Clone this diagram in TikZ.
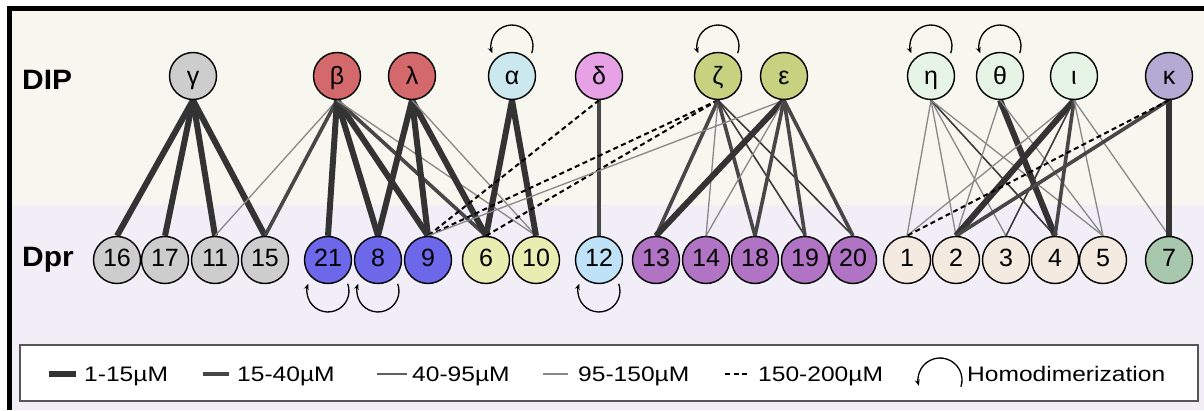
\documentclass[tikz,border=0pt]{standalone}
\usepackage{fontspec}
\setmainfont{Liberation Sans}
\newfontfamily\legfont[FakeStretch=1.17]{Liberation Sans}
\newfontfamily\rowfont[FakeStretch=1.07]{Liberation Sans}
\usetikzlibrary{arrows.meta}
\pgfdeclarelayer{back}
\pgfdeclarelayer{edges}
\pgfsetlayers{back,edges,main}

% fills
\definecolor{bgtop}{HTML}{F7F6EF}
\definecolor{bgbot}{HTML}{F2EEF8}
\definecolor{cgray}{HTML}{CDCDCD}
\definecolor{cred}{HTML}{D3696B}
\definecolor{ccyan}{HTML}{CBE8EE}
\definecolor{cpink}{HTML}{E6A2E4}
\definecolor{colive}{HTML}{C6D27F}
\definecolor{cmint}{HTML}{E6F4E6}
\definecolor{clav}{HTML}{B5AAD3}
\definecolor{cblue}{HTML}{6D67EA}
\definecolor{cyel}{HTML}{EAEDB2}
\definecolor{clblue}{HTML}{BFE2F8}
\definecolor{cpurp}{HTML}{B174C4}
\definecolor{cbeige}{HTML}{F4EAE0}
\definecolor{csage}{HTML}{A8C8AD}
\definecolor{edgeA}{HTML}{333333}
\definecolor{edgeB}{HTML}{474747}
\definecolor{edgeC}{HTML}{3A3A3A}
\definecolor{edgeD}{HTML}{888888}
\definecolor{boxline}{HTML}{555555}

\begin{document}
\begin{tikzpicture}[x=1pt,y=1pt,
  mol/.style={circle, draw=black, line width=1.4pt, minimum size=47pt,
    inner sep=0pt, font=\fontsize{25}{30}\selectfont},
  dip/.style={mol, text height=18pt, text depth=0pt},
  dpr/.style={mol, text height=14pt, text depth=0pt},
  rowlab/.style={inner sep=0pt, anchor=base west,
    font=\rowfont\bfseries\fontsize{28}{32}\selectfont},
  leg/.style={inner sep=0pt, anchor=base west,
    font=\legfont\fontsize{21}{25}\selectfont},
  w1/.style={line width=6pt, edgeA},
  w2/.style={line width=3.6pt, edgeB},
  w3/.style={line width=1.6pt, edgeC},
  w4/.style={line width=1.3pt, edgeD},
  w5/.style={line width=2pt, black, dash pattern=on 5pt off 3.5pt},
  homo/.style={line width=1.3pt, black, -{Stealth[length=6pt,width=5pt]}},
]
\useasboundingbox (0,0) rectangle (1204,410);

% background bands and frame
\begin{pgfonlayer}{back}
  \fill[white] (0,0) rectangle (1204,410);
  \fill[bgtop] (11.5,205) rectangle (1204,398.5);
  \fill[bgbot] (11.5,0) rectangle (1204,205);
  \draw[line width=5pt, line join=miter] (9,0) -- (9,401) -- (1204,401);
\end{pgfonlayer}

% row labels
\node[rowlab] (diplab) at (22,320) {DIP};
\node[rowlab] (dprlab) at (22,143) {Dpr};

% DIP row
\node[dip, fill=cgray]  (g)  at (193,334)  {γ};
\node[dip, fill=cred]   (b)  at (337,334)  {β};
\node[dip, fill=cred]   (l)  at (412,334)  {λ};
\node[dip, fill=ccyan]  (a)  at (512,334)  {α};
\node[dip, fill=cpink]  (dl) at (599,334)  {δ};
\node[dip, fill=colive] (z)  at (718,334)  {ζ};
\node[dip, fill=colive] (e)  at (784,334)  {ε};
\node[dip, fill=cmint]  (h)  at (931,334)  {η};
\node[dip, fill=cmint]  (t)  at (1000,334) {θ};
\node[dip, fill=cmint]  (i)  at (1074,334) {ι};
\node[dip, fill=clav]   (k)  at (1169,334) {κ};

% Dpr row
\node[dpr, fill=cgray]  (d16) at (117,150)  {16};
\node[dpr, fill=cgray]  (d17) at (165,150)  {17};
\node[dpr, fill=cgray]  (d11) at (215,150)  {11};
\node[dpr, fill=cgray]  (d15) at (265,150)  {15};
\node[dpr, fill=cblue]  (d21) at (328,150)  {21};
\node[dpr, fill=cblue]  (d8)  at (378,150)  {8};
\node[dpr, fill=cblue]  (d9)  at (428,150)  {9};
\node[dpr, fill=cyel]   (d6)  at (486,150)  {6};
\node[dpr, fill=cyel]   (d10) at (536,150)  {10};
\node[dpr, fill=clblue] (d12) at (599,150)  {12};
\node[dpr, fill=cpurp]  (d13) at (656,150)  {13};
\node[dpr, fill=cpurp]  (d14) at (706,150)  {14};
\node[dpr, fill=cpurp]  (d18) at (755,150)  {18};
\node[dpr, fill=cpurp]  (d19) at (805,150)  {19};
\node[dpr, fill=cpurp]  (d20) at (853,150)  {20};
\node[dpr, fill=cbeige] (d1)  at (907,150)  {1};
\node[dpr, fill=cbeige] (d2)  at (956,150)  {2};
\node[dpr, fill=cbeige] (d3)  at (1006,150) {3};
\node[dpr, fill=cbeige] (d4)  at (1055,150) {4};
\node[dpr, fill=cbeige] (d5)  at (1103,150) {5};
\node[dpr, fill=csage]  (d7)  at (1169,150) {7};

% binding affinities, drawn under the circles
\begin{pgfonlayer}{edges}
\foreach \p/\q/\s in {
  g/d16/w1, g/d17/w1, g/d11/w1, g/d15/w1,
  b/d11/w4, b/d15/w2, b/d21/w1, b/d8/w1, b/d9/w1, b/d6/w2, b/d10/w4,
  l/d8/w1, l/d9/w1, l/d6/w1, l/d10/w4,
  a/d6/w1, a/d10/w1,
  dl/d12/w2, dl/d9/w5,
  z/d9/w5, z/d6/w5, z/d13/w2, z/d14/w4, z/d18/w2, z/d19/w3, z/d20/w3,
  e/d9/w4, e/d13/w1, e/d14/w4, e/d18/w2, e/d19/w2, e/d20/w2,
  h/d1/w4, h/d2/w4, h/d3/w4, h/d4/w3, h/d5/w4,
  t/d2/w4, t/d4/w1, t/d5/w4,
  i/d1/w4, i/d2/w1, i/d3/w3, i/d4/w2, i/d5/w4, i/d7/w4,
  k/d7/w1, k/d2/w2, k/d1/w5}
  \draw[style=\s] (\p.south) -- (\q.north);
\end{pgfonlayer}

% homodimerization loops
\foreach \n in {a,z,h,t}
  \draw[homo] ([shift={(19.7,22.8)}]\n.center) arc[start angle=-20, end angle=200, radius=21];
\foreach \n in {d21,d8,d12}
  \draw[homo] ([shift={(19.7,-23.8)}]\n.center) arc[start angle=20, end angle=-200, radius=21];

% legend
\draw[boxline, line width=1.8pt, fill=white] (20,9) rectangle (1198,65);
\coordinate (s1a) at (49,36);  \coordinate (s1b) at (76,36);
\coordinate (s2a) at (203,36); \coordinate (s2b) at (229,36);
\coordinate (s3a) at (377,36); \coordinate (s3b) at (407,36);
\coordinate (s4a) at (543,36); \coordinate (s4b) at (568,36);
\coordinate (s5a) at (725,36); \coordinate (s5b) at (748,36);
\draw[line width=5.5pt, edgeA] (s1a) -- (s1b);
\draw[line width=4pt, edgeB] (s2a) -- (s2b);
\draw[line width=1.4pt, edgeC!80] (s3a) -- (s3b);
\draw[line width=1.1pt, edgeD] (s4a) -- (s4b);
\draw[line width=1.6pt, black, dash pattern=on 5pt off 3.5pt] (s5a) -- (s5b);
\node[leg] (t1) at (84,29)  {1-15µM};
\node[leg] (t2) at (237,29) {15-40µM};
\node[leg] (t3) at (412,29) {40-95µM};
\node[leg] (t4) at (578,29) {95-150µM};
\node[leg] (t5) at (758,29) {150-200µM};
\coordinate (hc) at (940,30);
\draw[homo] ([shift={(-18:22)}]hc) arc[start angle=-18, end angle=195, radius=22];
\node[leg] (t6) at (967,29) {Homodimerization};
\end{tikzpicture}
\end{document}
